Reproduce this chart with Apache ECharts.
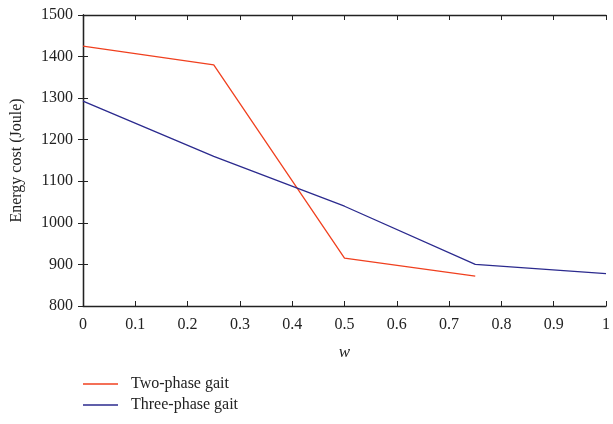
<!DOCTYPE html>
<html><head><meta charset="utf-8">
<script src="https://cdn.jsdelivr.net/npm/echarts@6/dist/echarts.min.js"></script>
<style>html,body{margin:0;padding:0;background:#fff}#c{width:613px;height:424px}</style>
</head><body><div id="c"></div>
<script>
const wValues = [0, 0.25, 0.5, 0.75, 1];
const twoPhase = [1425, 1380, 915, 872];
const threePhase = [1293, 1160, 1040, 900, 878];
const seriesNames = ['Two-phase gait', 'Three-phase gait'];
const yAxisName = 'Energy cost (Joule)';
const xAxisName = 'w';

const font = 'Liberation Serif';
const axisCommon = {
  axisLine: {show: true, lineStyle: {color: '#222', width: 1.3}},
  axisTick: {show: true, inside: true, length: 5, lineStyle: {color: '#222', width: 1}},
  splitLine: {show: false}
};
const legendCommon = {
  orient: 'vertical', left: 83, icon: 'rect', itemWidth: 35, itemHeight: 1.4, padding: 0,
  textStyle: {fontFamily: font, fontSize: 16, color: '#222', padding: [0, 0, 0, 8]}
};
const chart = echarts.init(document.getElementById('c'));
chart.setOption({
  animation: false,
  textStyle: {fontFamily: font},
  grid: {left: 83, right: 2, top: 15, bottom: 118, containLabel: false},
  legend: [
    Object.assign({top: 376, data: [seriesNames[0]]}, legendCommon),
    Object.assign({top: 397, data: [seriesNames[1]]}, legendCommon)
  ],
  xAxis: [
    Object.assign({type: 'value', min: 0, max: 1, interval: 0.1, position: 'bottom',
      name: xAxisName, nameLocation: 'middle', nameGap: 38,
      nameTextStyle: {fontFamily: font, fontSize: 17, fontStyle: 'italic', color: '#222'},
      axisLabel: {fontFamily: font, fontSize: 16, color: '#222', margin: 11,
        formatter: v => String(Math.round(v * 10) / 10)}}, axisCommon),
    Object.assign({type: 'value', min: 0, max: 1, interval: 0.1, position: 'top',
      axisLabel: {show: false}}, axisCommon)
  ],
  yAxis: [
    Object.assign({type: 'value', min: 800, max: 1500, interval: 100, position: 'left',
      name: yAxisName, nameLocation: 'middle', nameGap: 58, nameRotate: 90,
      nameTextStyle: {fontFamily: font, fontSize: 16, color: '#222'},
      axisLabel: {fontFamily: font, fontSize: 16, color: '#222', margin: 10,
        formatter: v => String(v)}}, axisCommon),
    Object.assign({type: 'value', min: 800, max: 1500, interval: 100, position: 'right',
      axisLabel: {show: false}}, axisCommon)
  ],
  series: [
    {name: seriesNames[0], type: 'line', symbol: 'none', color: '#f0401f',
      lineStyle: {width: 1.3, color: '#f0401f'},
      data: twoPhase.map((v, i) => [wValues[i], v])},
    {name: seriesNames[1], type: 'line', symbol: 'none', color: '#2b2a8e',
      lineStyle: {width: 1.3, color: '#2b2a8e'},
      data: threePhase.map((v, i) => [wValues[i], v])}
  ]
});
</script></body></html>
